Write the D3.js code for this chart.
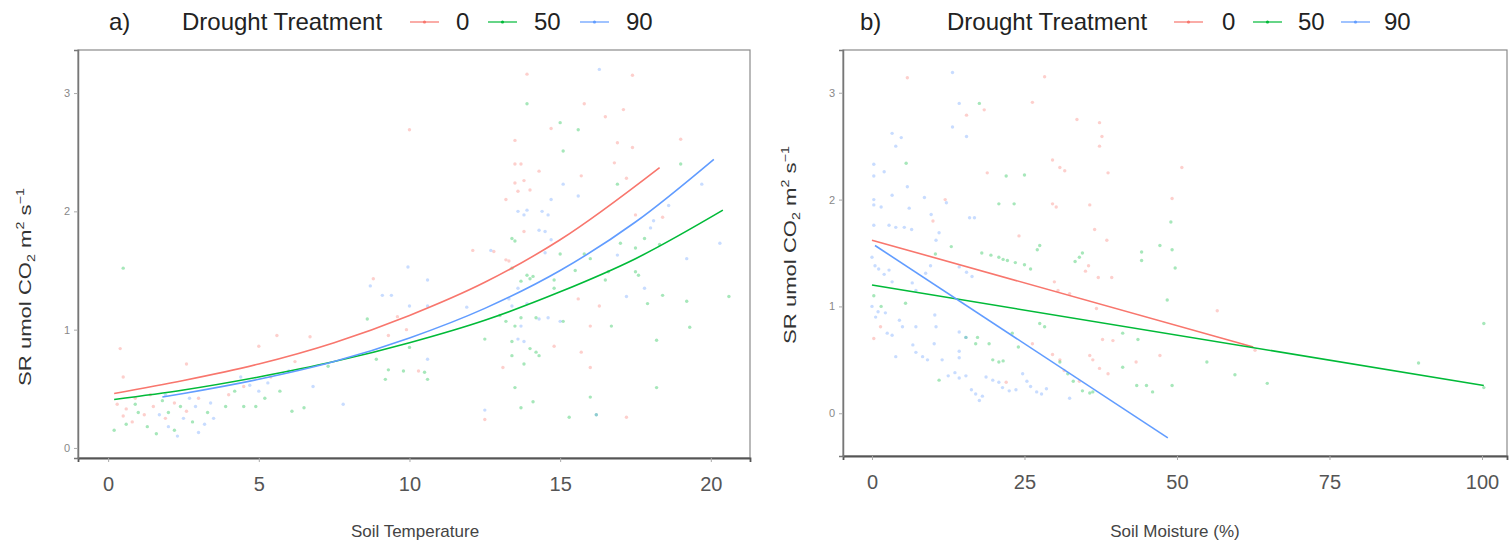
<!DOCTYPE html>
<html>
<head>
<meta charset="utf-8">
<script src="https://cdn.jsdelivr.net/npm/d3@7"></script>
<style>
  body { margin: 0; background: #fff; }
  text { font-family: "Liberation Sans", Arial, sans-serif; }
</style>
</head>
<body>
<div class="chart"></div>
<script>
var svgWidth = 1510;
var svgHeight = 546;

// series colours (ggplot defaults for 3 groups)
var groups = ["0", "50", "90"];
var colors = ["#F8766D", "#00BA38", "#619CFF"];

// ---- panel a data: [soil temperature, SR] ----
var tempPts0 = [[0.3,0.37],[0.6,0.33],[0.9,0.42],[1.2,0.28],[1.5,0.35],[1.9,0.25],[0.8,0.22],[2.2,0.38],[1.4,0.45],[0.5,0.27],[2.6,0.31],[3.0,0.42],[0.4,0.84],[0.5,0.6],[2.6,0.71],
  [4.5,0.52],[5.0,0.86],[5.6,0.95],[6.2,0.73],[4.0,0.45],[6.7,0.94],[5.4,0.6],
  [8.8,1.43],[9.3,0.95],[10.0,2.69],[9.6,1.11],[10.3,0.65],[9.9,1.0],[12.1,1.67],[12.5,0.24],
  [13.9,3.16],[15.8,2.91],[13.5,2.6],[13.5,2.4],[13.7,2.4],[13.5,2.24],[13.8,2.26],[13.6,2.17],[13.2,2.1],[13.2,1.59],[13.3,1.58],[14.8,0.86],[13.1,0.68],[14.0,2.18],[14.3,2.34],[12.8,1.66],[13.8,1.83],
  [17.4,3.15],[16.5,2.8],[17.1,2.86],[14.7,2.7],[16.9,2.58],[17.4,2.54],[16.8,2.41],[17.2,2.28],[17.5,1.97],[18.4,1.95],[15.7,2.3],[15.7,0.81],[16.0,0.68],[19.0,2.61],[15.6,1.26],[16.3,1.2],[17.2,0.26],[16.0,1.03]];
var tempPts50 = [[0.5,1.52],[0.2,0.15],[0.6,0.2],[1.0,0.3],[1.3,0.18],[1.6,0.12],[2.0,0.3],[2.4,0.35],[2.8,0.22],[1.8,0.4],[0.9,0.37],[3.3,0.3],[2.2,0.15],
  [4.2,0.48],[4.9,0.35],[5.7,0.48],[6.5,0.34],[6.1,0.31],[4.5,0.35],[7.3,0.69],[5.2,0.42],[3.9,0.35],
  [8.9,0.75],[9.2,0.58],[9.8,0.65],[10.6,0.58],[9.3,0.66],[10.5,0.64],[8.6,1.09],[10.0,0.85],[12.5,0.92],
  [13.9,2.91],[15.1,2.51],[13.4,1.77],[13.5,1.75],[13.7,1.41],[13.9,1.46],[14.0,1.43],[14.1,1.45],[13.4,1.52],[13.0,1.12],[13.2,1.07],[13.7,1.1],[14.2,1.1],[13.5,1.03],[13.4,0.9],[14.0,0.84],[14.2,0.81],[13.4,0.78],[13.8,0.71],[14.3,0.78],[13.5,0.51],[14.1,0.39],
  [15.0,2.75],[15.6,2.69],[16.9,2.23],[19.0,2.40],[15.8,1.64],[16.0,1.60],[17.0,1.73],[17.5,1.69],[17.8,1.77],[18.3,1.72],[16.5,1.42],[16.6,1.49],[17.5,1.49],[17.6,1.46],[15.5,1.5],[14.8,1.42],[14.8,1.35],[15.1,1.07],[16.7,1.03],[17.9,1.22],[18.4,1.29],[19.2,1.24],[19.3,1.02],[18.2,0.91],[18.2,0.51],[16.0,0.43],[15.3,0.26],[16.2,0.28],[20.6,1.28],[15.0,1.64],[13.7,0.34]];
var tempPts90 = [[1.7,0.28],[2.0,0.18],[2.3,0.1],[2.5,0.25],[2.9,0.35],[3.2,0.2],[3.5,0.25],[2.7,0.42],[3.0,0.13],[1.9,0.45],[3.4,0.38],
  [4.7,0.53],[5.3,0.55],[6.0,0.65],[6.8,0.52],[7.8,0.37],[5.0,0.48],[4.4,0.6],
  [8.7,1.37],[9.1,1.29],[9.4,1.29],[9.95,1.53],[10.6,1.42],[10.0,1.2],[10.6,1.2],[10.6,0.75],[12.7,1.67],[11.9,1.19],[12.5,0.32],
  [13.6,2.0],[13.8,1.97],[13.9,2.01],[14.3,1.84],[14.5,1.83],[14.4,2.0],[14.6,1.97],[13.3,1.26],[13.4,1.2],[13.9,1.22],[14.3,1.09],[13.7,1.03],[13.6,0.92],[13.8,0.9],[14.7,1.76],[14.5,1.65],[13.6,1.35],
  [16.3,3.2],[15.1,2.23],[15.6,2.13],[14.7,2.1],[19.7,2.23],[18.6,2.05],[18.1,1.92],[18.0,1.86],[16.9,1.63],[19.2,1.6],[20.3,1.73],[17.2,1.28],[17.8,1.35],[14.6,1.1],[15.0,1.07],[16.2,0.28]];

// fitted curves
var tempFit0 = [[0.2,0.46],[2.5,0.57],[5,0.71],[7.5,0.89],[10,1.12],[12.5,1.40],[15,1.76],[18.3,2.37]];
var tempFit50 = [[0.2,0.41],[2.5,0.49],[5,0.60],[7.5,0.73],[10,0.89],[12.5,1.08],[15,1.32],[17.5,1.60],[20.4,2.01]];
var tempFit90 = [[1.8,0.43],[2.5,0.46],[5,0.58],[7.5,0.73],[10,0.93],[12.5,1.18],[15,1.50],[17.5,1.91],[20.1,2.44]];

// ---- panel b data: [soil moisture %, SR] ----
var moistPts0 = [[5.8,3.14],[28.3,3.15],[18.4,2.84],[15.5,2.79],[26.3,2.91],[18.9,2.25],[29.6,2.37],[30.8,2.3],[31.6,2.27],[33.6,2.75],[37.3,2.72],[37.7,2.59],[37.3,2.5],[38.7,2.25],[29.6,1.96],[30.2,1.93],[35.7,1.95],[36.5,1.72],[38.5,1.62],[35,1.33],[35.5,1.38],[37.1,1.27],[39.3,1.27],[29.9,1.23],[30.5,1.15],[32.4,1.12],[36.8,0.98],[37.8,0.69],[39.5,0.68],[35.7,0.54],[36.2,0.5],[37.3,0.42],[38.7,0.37],[31.5,0.4],[1.4,0.81],[0.3,0.7],[24.1,1.66],[29.6,0.55],[30.8,0.5],[26.3,0.65],[62.8,0.59],[56.6,0.96],[47.2,0.54],[43.3,0.48],[34,0.3],[22,0.29],[12,2.0],[50.8,2.3],[49.2,2.01],[10,1.8]];
var moistPts50 = [[17.6,2.9],[5.6,2.34],[22,2.22],[20.8,1.96],[23.3,1.96],[27.5,1.57],[27.1,1.53],[34,1.46],[34.5,1.5],[33.3,1.42],[18,1.5],[19.5,1.48],[20.8,1.46],[21.5,1.44],[22.2,1.43],[23.5,1.41],[25,1.39],[26,1.35],[0.3,1.1],[1.5,1.0],[5.5,1.03],[17,0.65],[17.3,0.71],[19.2,0.65],[19.8,0.5],[20.8,0.48],[21.5,0.49],[23,0.75],[24,0.62],[27.5,0.84],[28.3,0.81],[30.8,0.48],[32.1,0.37],[33,0.3],[34.5,0.21],[35.7,0.19],[36.2,0.2],[41.1,0.75],[43.6,0.69],[41.1,0.43],[43.4,0.26],[45,0.26],[46,0.2],[49.2,1.53],[47.2,1.57],[44.2,1.51],[44.2,1.43],[49.7,1.36],[48.4,1.06],[49.2,0.26],[54.9,0.48],[59.5,0.36],[64.8,0.28],[89.6,0.47],[100.3,0.84],[100.3,0.24],[10.4,1.49],[13,1.56],[15.4,0.71],[11,0.31],[25,2.23],[49,1.79]];
var moistPts90 = [[13.2,3.19],[14.3,2.9],[13.2,2.68],[15.5,2.59],[3.3,2.62],[4.8,2.58],[3.9,2.5],[0.3,2.33],[2.0,2.26],[0.3,2.22],[5.8,2.12],[3.3,2.04],[1.5,1.93],[0.3,2.0],[0.3,1.95],[6.1,1.92],[0.3,1.76],[2.8,1.76],[3.9,1.74],[5.3,1.74],[6.5,1.72],[8.6,2.02],[9.7,1.86],[11,1.69],[10.5,1.62],[12.2,1.97],[16,1.83],[16.8,1.83],[0,1.46],[0.5,1.38],[1.1,1.35],[2.0,1.30],[2.8,1.34],[0,1.0],[1.0,0.95],[2.2,0.94],[0.6,0.9],[2.5,0.75],[3.3,0.73],[4.5,0.87],[5,0.81],[3.9,0.53],[6.7,0.64],[7.2,0.57],[8.3,0.53],[9.1,0.5],[10.2,0.65],[10.5,0.81],[10.3,0.92],[11.5,0.5],[12.5,0.35],[13.6,0.38],[14.3,0.33],[15.4,0.35],[16.3,0.22],[17,0.18],[17.6,0.12],[18.1,0.16],[14.3,0.58],[14.3,0.52],[14.3,0.76],[15.4,0.71],[18.7,0.34],[19.8,0.31],[20.8,0.29],[21.4,0.24],[22.5,0.21],[23.6,0.22],[24.7,0.37],[25.4,0.3],[26,0.25],[27,0.2],[27.8,0.18],[28.6,0.23],[7.2,0.81],[8.8,1.31],[9.6,1.38],[3.3,1.23],[6.6,1.22],[7.2,1.15],[14.3,1.37],[15.5,1.32],[16.4,1.28],[32.4,0.14]];

var moistFit0 = [[0,1.62],[62.5,0.62]];
var moistFit50 = [[0,1.20],[100.3,0.26]];
var moistFit90 = [[0.5,1.57],[48.5,-0.23]];

// tick values
var tempTicks = [0, 5, 10, 15, 20];
var moistTicks = [0, 25, 50, 75, 100];
var srTicks = [0, 1, 2, 3];

var svg = d3.select(".chart")
  .append("svg")
  .attr("width", svgWidth)
  .attr("height", svgHeight);

// draw one panel
function drawPanel(opt) {
  var x = d3.scaleLinear().domain(opt.xDomain).range([opt.box.left, opt.box.right]);
  var y = d3.scaleLinear().domain(opt.yDomain).range([opt.box.bottom, opt.box.top]);

  var g = svg.append("g");

  // points
  opt.points.forEach(function(pts, i) {
    g.append("g").selectAll("circle")
      .data(pts)
      .enter()
      .append("circle")
      .attr("cx", d => x(d[0]))
      .attr("cy", d => y(d[1]))
      .attr("r", 1.7)
      .attr("fill", colors[i])
      .attr("fill-opacity", 0.35);
  });

  // fitted lines
  var line = d3.line()
    .x(d => x(d[0]))
    .y(d => y(d[1]))
    .curve(d3.curveMonotoneX);
  opt.fits.forEach(function(fit, i) {
    g.append("path")
      .datum(fit)
      .attr("d", line)
      .attr("fill", "none")
      .attr("stroke", colors[i])
      .attr("stroke-width", 1.6);
  });

  // frame
  g.append("rect")
    .attr("x", opt.box.left)
    .attr("y", opt.box.top)
    .attr("width", opt.box.right - opt.box.left)
    .attr("height", opt.box.bottom - opt.box.top)
    .attr("fill", "none")
    .attr("stroke", "#8a8a8a")
    .attr("stroke-width", 1.2);

  // axes
  var bottomAxis = d3.axisBottom(x).tickValues(opt.xTicks).tickSize(4).tickPadding(15);
  var leftAxis = d3.axisLeft(y).tickValues(srTicks).tickFormat(d3.format("d")).tickSize(4).tickPadding(4);

  var xa = g.append("g")
    .attr("transform", `translate(0, ${opt.box.bottom})`)
    .call(bottomAxis);
  xa.select(".domain").attr("stroke", "#555").attr("stroke-width", 1.8);
  xa.selectAll(".tick line").attr("stroke", "#aaa");
  xa.selectAll(".tick text")
    .attr("fill", "#555")
    .style("font-size", "20px");

  var ya = g.append("g")
    .attr("transform", `translate(${opt.box.left}, 0)`)
    .call(leftAxis);
  ya.select(".domain").attr("stroke", "#777").attr("stroke-width", 1.5);
  ya.selectAll(".tick line").attr("stroke", "#aaa");
  ya.selectAll(".tick text")
    .attr("fill", "#888")
    .style("font-size", "11px");

  // x axis title
  g.append("text")
    .attr("x", opt.xTitleX)
    .attr("y", 537)
    .attr("text-anchor", "middle")
    .attr("fill", "#444")
    .style("font-size", "17px")
    .text(opt.xTitle);

  // y axis title with sub/superscripts
  var yt = g.append("text")
    .attr("transform", `translate(${opt.yTitle[0]}, ${opt.yTitle[1]}) rotate(-90) scale(1.3, 1)`)
    .attr("text-anchor", "middle")
    .attr("fill", "#333")
    .style("font-size", "17px");
  yt.append("tspan").text("SR umol CO");
  yt.append("tspan").attr("dy", 4).style("font-size", "11px").text("2");
  yt.append("tspan").attr("dy", -4).text(" m");
  yt.append("tspan").attr("dy", -7).style("font-size", "11px").text("2");
  yt.append("tspan").attr("dy", 7).text(" s");
  yt.append("tspan").attr("dy", -7).style("font-size", "11px").text("\u22121");

  // legend
  var lg = opt.legend;
  g.append("text").attr("x", lg.tag).attr("y", 30).style("font-size", "24px").attr("fill", "#222").text(opt.tag);
  g.append("text").attr("x", lg.title).attr("y", 30).style("font-size", "24px").attr("fill", "#222").text("Drought Treatment");
  groups.forEach(function(name, i) {
    var kx = lg.keys[i];
    g.append("line")
      .attr("x1", kx).attr("x2", kx + 29)
      .attr("y1", 22).attr("y2", 22)
      .attr("stroke", colors[i])
      .attr("stroke-opacity", 0.8)
      .attr("stroke-width", 1.5);
    g.append("circle")
      .attr("cx", kx + 14.5).attr("cy", 22).attr("r", 1.6)
      .attr("fill", colors[i]);
    g.append("text")
      .attr("x", lg.labels[i]).attr("y", 30)
      .style("font-size", "24px")
      .attr("fill", "#222")
      .text(name);
  });
}

drawPanel({
  tag: "a)",
  box: {left: 78, right: 750, top: 50, bottom: 458},
  xDomain: [-1.0, 21.3],
  yDomain: [-0.085, 3.364],
  xTicks: tempTicks,
  points: [tempPts0, tempPts50, tempPts90],
  fits: [tempFit0, tempFit50, tempFit90],
  xTitle: "Soil Temperature",
  xTitleX: 415,
  yTitle: [31, 287],
  legend: {tag: 109, title: 182, keys: [410, 488, 580], labels: [456, 534, 626]}
});

drawPanel({
  tag: "b)",
  box: {left: 843, right: 1507, top: 50, bottom: 456},
  xDomain: [-4.75, 104.1],
  yDomain: [-0.40, 3.40],
  xTicks: moistTicks,
  points: [moistPts0, moistPts50, moistPts90],
  fits: [moistFit0, moistFit50, moistFit90],
  xTitle: "Soil Moisture (%)",
  xTitleX: 1175,
  yTitle: [796, 245],
  legend: {tag: 860, title: 947, keys: [1174, 1253, 1341], labels: [1222, 1298, 1384]}
});
</script>
</body>
</html>
